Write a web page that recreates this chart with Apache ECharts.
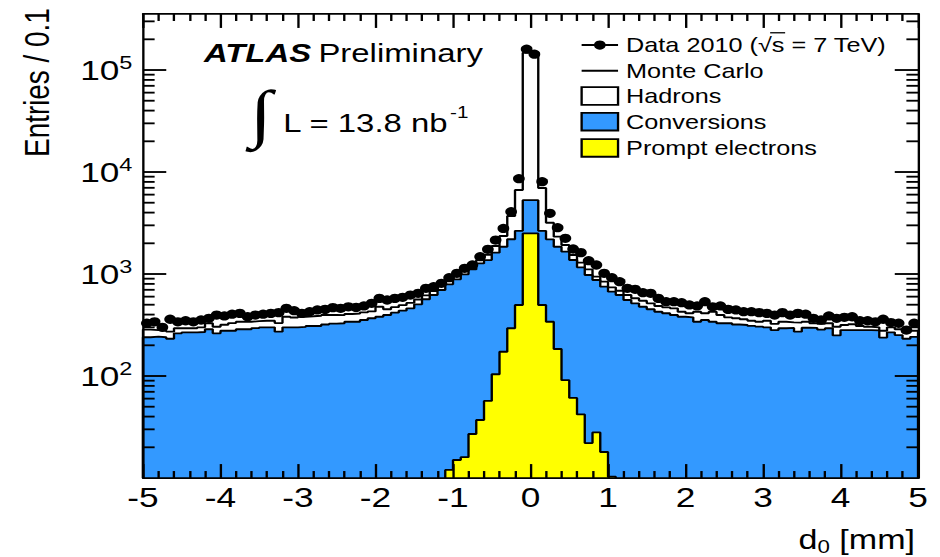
<!DOCTYPE html>
<html>
<head>
<meta charset="utf-8">
<title>d0 distribution</title>
<script src="https://cdn.jsdelivr.net/npm/echarts@6/dist/echarts.min.js"></script>
<style>
  html, body { margin: 0; padding: 0; background: #fff; }
  #wrap { width: 940px; height: 557px; overflow: hidden; position: relative; background: #fff; }
  /* The figure is laid out on an 800x600 canvas and stretched to the 940x557 frame */
  #chart { width: 800px; height: 600px; transform: scale(1.175, 0.928333); transform-origin: 0 0; }
</style>
</head>
<body>
<div id="wrap"><div id="chart"></div></div>
<script>
// ---- binning: 100 bins of 0.1 mm between -5 and 5 ----
const binEdges = Array.from({ length: 101 }, (_, i) => +(-5 + 0.1 * i).toFixed(1));

// ---- data, entries per bin ----
const dataCounts = [
  329, 340, 300, 360, 340, 348, 340, 354, 368, 396,
  388, 404, 411, 381, 396, 404, 411, 418, 461, 437,
  411, 427, 444, 450, 468, 461, 477, 471, 486, 516,
  577, 556, 577, 591, 622, 647, 724, 751, 811, 920,
  1016, 1137, 1225, 1478, 1745, 2150, 2800, 4080, 8600, 160000,
  143000, 8040, 3940, 2845, 2240, 1758, 1620, 1350, 1225, 1016,
  920, 841, 724, 708, 656, 647, 577, 535, 535, 523,
  497, 486, 535, 477, 486, 450, 444, 427, 427, 418,
  411, 396, 418, 396, 411, 404, 368, 354, 388, 368,
  376, 381, 348, 348, 340, 360, 334, 329, 282, 329
];

// ---- Monte Carlo components, entries per bin ----
const hadrons = [
  45, 39, 38, 40, 32, 26, 26, 30, 42, 42,
  40, 52, 53, 53, 50, 48, 48, 58, 81, 75,
  78, 76, 81, 76, 70, 66, 65, 70, 66, 62,
  97, 55, 55, 58, 60, 58, 53, 59, 66, 68,
  75, 85, 87, 101, 176, 264, 510, 1516, 4020, 142700,
  142700, 4320, 996, 471, 270, 164, 129, 134, 69, 90,
  69, 64, 66, 62, 69, 65, 59, 59, 65, 46,
  36, 87, 58, 87, 67, 47, 48, 44, 38, 35,
  48, 42, 46, 40, 62, 43, 33, 39, 35, 54,
  34, 40, 27, 22, 20, 40, 32, 35, 36, 36
];

const conversions = [
  240, 243, 240, 232, 262, 268, 268, 270, 287, 262,
  278, 278, 287, 287, 295, 300, 300, 272, 300, 300,
  303, 309, 309, 320, 326, 329, 340, 340, 354, 368,
  381, 396, 418, 437, 461, 504, 565, 622, 697, 780,
  872, 977, 1083, 1234, 1313, 1516, 1677, 1896, 2153, 2800,
  2800, 2153, 1848, 1668, 1564, 1310, 1120, 955, 845, 733,
  661, 622, 556, 516, 478, 451, 427, 412, 396, 381,
  376, 340, 354, 340, 329, 329, 320, 316, 310, 305,
  300, 282, 294, 296, 272, 297, 296, 285, 294, 250,
  282, 282, 282, 282, 280, 238, 268, 252, 232, 242
];

const promptElectrons = [
  0, 0, 0, 0, 0, 0, 0, 0, 0, 0,
  0, 0, 0, 0, 0, 0, 0, 0, 0, 0,
  0, 0, 0, 0, 0, 0, 0, 0, 0, 0,
  0, 0, 0, 0, 0, 0, 0, 0, 0, 12,
  15, 16, 27, 37, 57, 104, 173, 294, 497, 2500,
  2500, 497, 340, 184, 91, 61, 42, 22, 28, 18,
  10.3, 0, 0, 0, 0, 0, 0, 0, 0, 0,
  0, 0, 0, 0, 0, 0, 0, 0, 0, 0,
  0, 0, 0, 0, 0, 0, 0, 0, 0, 0,
  0, 0, 0, 0, 0, 0, 0, 0, 0, 0
];

// ---- axis settings ----
const xTickLabels = [-5, -4, -3, -2, -1, 0, 1, 2, 3, 4, 5];
const yDecadeLabels = [2, 3, 4, 5];          // shown as 10^n
const Y_MIN = 10, Y_MAX = 354000;

const FONT = '"Liberation Sans", Arial, Helvetica, sans-serif';
const BLUE = '#3399ff', YELLOW = '#ffff00';

// stacked tops of the histogram
const convTop = conversions.map((c, i) => c + promptElectrons[i]);
const mcTotal = convTop.map((c, i) => c + hadrons[i]);

// outline of a histogram as a step polyline (closed down to the axis floor)
function stepOutline(tops) {
  let first = tops.findIndex(v => v > 0);
  let last = tops.length - 1;
  while (last >= 0 && !(tops[last] > 0)) last--;
  const pts = [[binEdges[first], Y_MIN]];
  for (let i = first; i <= last; i++) pts.push([binEdges[i], tops[i]]);
  pts.push([binEdges[last + 1], Y_MIN]);
  return pts;
}

// data points at bin centres
const dataPoints = dataCounts.map((v, i) => [
  (binEdges[i] + binEdges[i + 1]) / 2, v, binEdges[i], binEdges[i + 1]
]);

// log-axis tick marks (major at decades, minor at 2..9 x decade)
const yTicks = [];
for (let d = 1; d <= 5; d++) {
  const base = Math.pow(10, d);
  if (d >= 2) yTicks.push([base, 1]);
  for (let k = 2; k <= 9; k++) {
    const v = k * base;
    if (v < Y_MAX) yTicks.push([v, 0]);
  }
}

const axisLineStyle = { color: '#000', width: 2 };

function xAxisDef(position, showLabels) {
  return {
    type: 'value', position, min: -5, max: 5, interval: 1, z: 10,
    axisLine: { show: true, onZero: false, lineStyle: axisLineStyle },
    axisTick: { show: true, inside: true, length: 15, lineStyle: axisLineStyle },
    minorTick: { show: true, splitNumber: 5, length: 7.5, lineStyle: axisLineStyle },
    splitLine: { show: false }, minorSplitLine: { show: false },
    axisLabel: {
      show: showLabels, color: '#000', fontFamily: FONT, fontSize: 30, margin: 6,
      formatter: v => (xTickLabels.indexOf(Math.round(v)) >= 0 ? String(Math.round(v)) : '')
    }
  };
}

function yAxisDef(position, showLabels) {
  return {
    type: 'log', logBase: 10, position, min: Y_MIN, max: Y_MAX, z: 10,
    axisLine: { show: true, onZero: false, lineStyle: axisLineStyle },
    axisTick: { show: false }, minorTick: { show: false },
    splitLine: { show: false },
    axisLabel: {
      show: showLabels, margin: 9,
      formatter: v => {
        const e = Math.log10(v), n = Math.round(e);
        if (Math.abs(e - n) > 1e-6 || yDecadeLabels.indexOf(n) < 0) return '';
        return '{b|10}{s|' + n + '}';
      },
      rich: {
        b: { fontFamily: FONT, fontSize: 30, color: '#000', lineHeight: 36 },
        s: { fontFamily: FONT, fontSize: 20, color: '#000', lineHeight: 16, verticalAlign: 'top' }
      }
    }
  };
}

function histSeries(name, tops, fill, z) {
  return {
    name, type: 'line', xAxisIndex: 0, yAxisIndex: 0,
    data: stepOutline(tops), step: 'end', showSymbol: false, symbol: 'none',
    lineStyle: { color: '#000', width: 2 },
    areaStyle: { color: fill, opacity: 1, origin: 'start' },
    z, silent: true, animation: false
  };
}

// text width helper for placing the radical bar
const measureCtx = document.createElement('canvas').getContext('2d');
function textWidth(str, size) {
  measureCtx.font = size + 'px ' + FONT;
  return measureCtx.measureText(str).width;
}

// legend rows
const legendX = 495, legendW = 31, legendTextX = 532.8, legendFont = 21.5;
const legendRows = [48.5, 76.2, 103.4, 131.1, 159.4];
const legendLabels = ['Data 2010 (\u221As = 7 TeV)', 'Monte Carlo', 'Hadrons', 'Conversions', 'Prompt electrons'];
const legendFills = [null, null, '#fff', BLUE, YELLOW];

const graphic = [];
legendLabels.forEach((label, i) => {
  const cy = legendRows[i];
  if (i === 0) {
    graphic.push({ type: 'line', shape: { x1: legendX, y1: cy, x2: legendX + legendW, y2: cy }, style: { stroke: '#000', lineWidth: 2 } });
    graphic.push({ type: 'circle', shape: { cx: legendX + legendW / 2, cy, r: 5 }, style: { fill: '#000' } });
  } else if (i === 1) {
    graphic.push({ type: 'line', shape: { x1: legendX, y1: cy, x2: legendX + legendW, y2: cy }, style: { stroke: '#000', lineWidth: 2 } });
  } else {
    graphic.push({ type: 'rect', shape: { x: legendX, y: cy - 9.5, width: legendW, height: 19 }, style: { fill: legendFills[i], stroke: '#000', lineWidth: 2 } });
  }
  graphic.push({ type: 'text', x: legendTextX, y: cy, style: { text: label, fontFamily: FONT, fontSize: legendFont, fill: '#000', verticalAlign: 'middle' } });
});

// bar over the "s" under the square root
const sStart = legendTextX + textWidth('Data 2010 (\u221A', legendFont);
const sEnd = sStart + textWidth('s', legendFont);
graphic.push({ type: 'line', shape: { x1: sStart - 1.5, y1: legendRows[0] - 13.2, x2: sEnd + 0.5, y2: legendRows[0] - 13.2 }, style: { stroke: '#000', lineWidth: 1.4 } });

// experiment label and luminosity
graphic.push(
  { type: 'text', x: 173.6, y: 56.4, style: { text: 'ATLAS', fontFamily: FONT, fontSize: 28, fontWeight: 'bold', fontStyle: 'italic', fill: '#000', verticalAlign: 'middle' } },
  { type: 'text', x: 271, y: 56.4, style: { text: 'Preliminary', fontFamily: FONT, fontSize: 28, fill: '#000', verticalAlign: 'middle' } },
  { type: 'text', x: 222, y: 122, style: { text: '\u222B', fontFamily: '"Liberation Serif", "DejaVu Serif", serif', fontSize: 69, fill: '#000', align: 'center', verticalAlign: 'middle' } },
  { type: 'text', x: 241.1, y: 132.6, style: { text: 'L = 13.8 nb', fontFamily: FONT, fontSize: 28, fill: '#000', verticalAlign: 'middle' } },
  { type: 'text', x: 383, y: 121, style: { text: '-1', fontFamily: FONT, fontSize: 17.6, fill: '#000', verticalAlign: 'middle' } },
  // axis titles
  { type: 'text', x: 31, y: 9, rotation: Math.PI / 2, style: { text: 'Entries / 0.1', fontFamily: FONT, fontSize: 30, fill: '#000', align: 'right', verticalAlign: 'middle' } },
  { type: 'text', x: 778.7, y: 582, style: {
      text: '{a|d}{s|0}{a| [mm]}', align: 'right', verticalAlign: 'middle',
      rich: {
        a: { fontFamily: FONT, fontSize: 29, color: '#000', lineHeight: 34 },
        s: { fontFamily: FONT, fontSize: 19, color: '#000', lineHeight: 4, verticalAlign: 'bottom' }
      } } }
);

const chart = echarts.init(document.getElementById('chart'), null, { renderer: 'svg', width: 800, height: 600 });
chart.setOption({
  animation: false,
  backgroundColor: '#fff',
  textStyle: { fontFamily: FONT },
  grid: { left: 121.7, right: 18.7, top: 15.1, bottom: 85.1, show: false },
  xAxis: [xAxisDef('bottom', true), xAxisDef('top', false)],
  yAxis: [yAxisDef('left', true), yAxisDef('right', false)],
  graphic,
  series: [
    histSeries('Hadrons', mcTotal, '#fff', 2),
    histSeries('Conversions', convTop, BLUE, 3),
    histSeries('Prompt electrons', promptElectrons, YELLOW, 4),
    {
      name: 'Data 2010', type: 'custom', xAxisIndex: 0, yAxisIndex: 0, z: 6,
      data: dataPoints, encode: { x: 0, y: 1 }, silent: true, clip: false,
      renderItem: (params, api) => {
        const c = api.coord([api.value(0), api.value(1)]);
        const l = api.coord([api.value(2), api.value(1)]);
        const r = api.coord([api.value(3), api.value(1)]);
        return {
          type: 'group', children: [
            { type: 'line', shape: { x1: l[0], y1: c[1], x2: r[0], y2: c[1] }, style: { stroke: '#000', lineWidth: 2 } },
            { type: 'circle', shape: { cx: c[0], cy: c[1], r: 5 }, style: { fill: '#000' } }
          ]
        };
      }
    },
    {
      name: 'y ticks', type: 'custom', xAxisIndex: 0, yAxisIndex: 0, z: 11,
      data: yTicks, encode: { y: 0 }, silent: true, clip: false,
      renderItem: (params, api) => {
        const v = api.value(0), major = api.value(1) === 1;
        const len = major ? 19.8 : 9.9;
        const pl = api.coord([-5, v]), pr = api.coord([5, v]);
        return {
          type: 'group', children: [
            { type: 'line', shape: { x1: pl[0], y1: pl[1], x2: pl[0] + len, y2: pl[1] }, style: { stroke: '#000', lineWidth: 2 } },
            { type: 'line', shape: { x1: pr[0], y1: pr[1], x2: pr[0] - len, y2: pr[1] }, style: { stroke: '#000', lineWidth: 2 } }
          ]
        };
      }
    }
  ]
});
</script>
</body>
</html>
